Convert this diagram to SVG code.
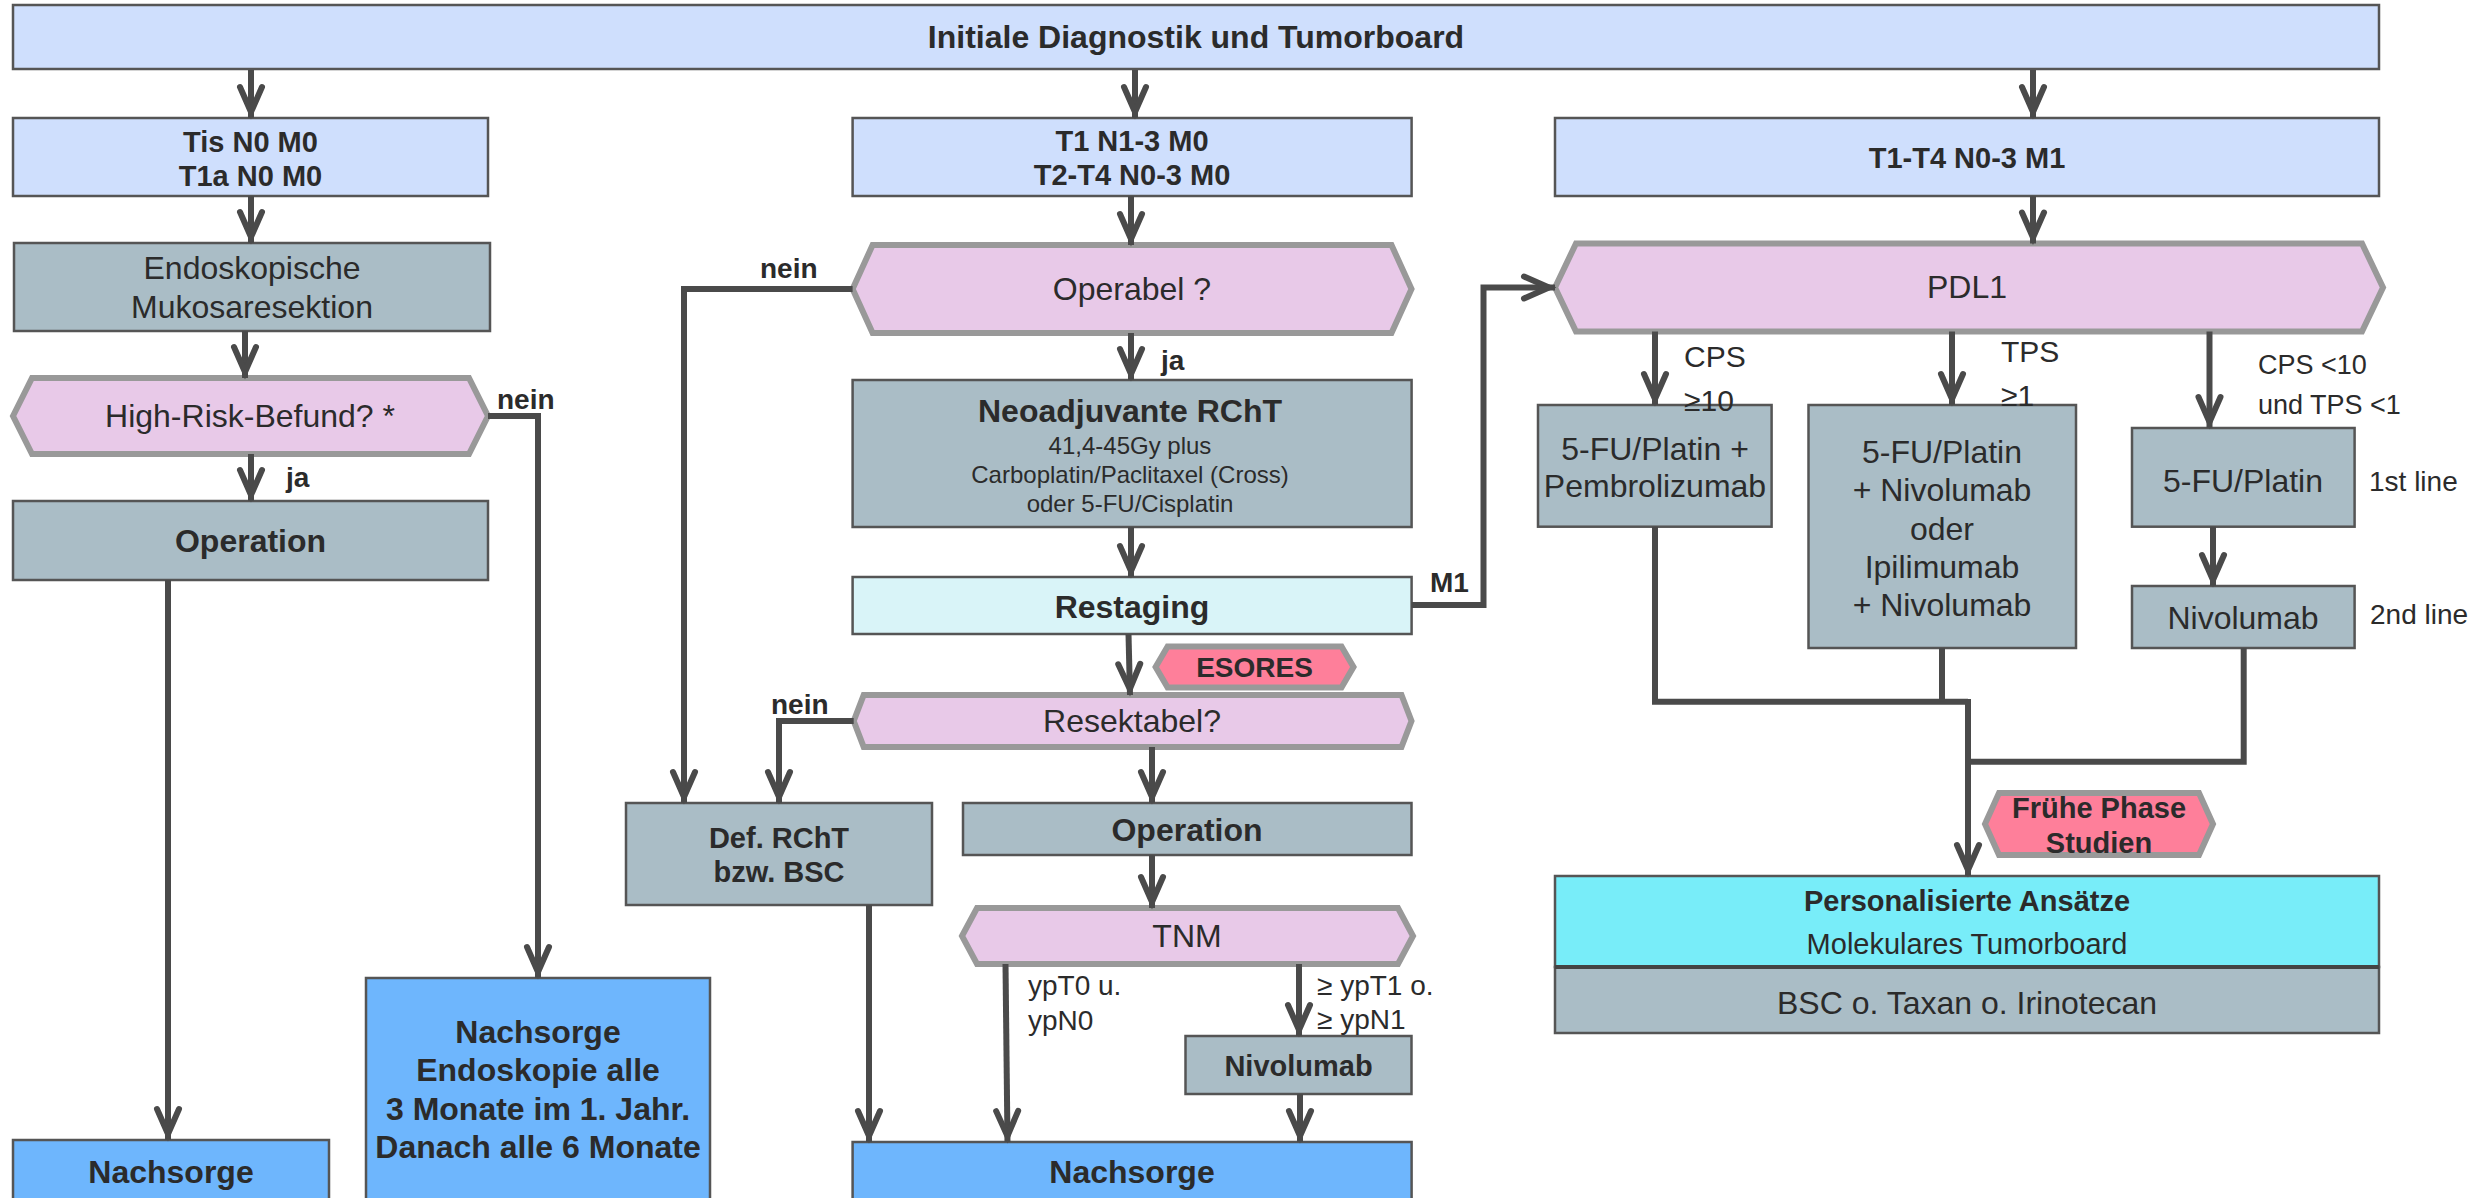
<svg xmlns="http://www.w3.org/2000/svg" width="2473" height="1198" viewBox="0 0 2473 1198">
<style>
.bx{stroke:#555;stroke-width:2.5}
.lb{fill:#cfdffd}
.gr{fill:#aabdc6}
.cy{fill:#d9f4f8}
.bl{fill:#6eb6fd}
.tq{fill:#78edf9}
.hx{fill:#e8c9e8;stroke:#999;stroke-width:6;stroke-linejoin:miter}
.rd{fill:#fe7f9a;stroke:#999;stroke-width:6;stroke-linejoin:miter}
text{font-family:"Liberation Sans",Arial,sans-serif;fill:#2b2b2b;text-anchor:middle}
.b{font-weight:bold}
.l{text-anchor:start}
.f32{font-size:32px}
.f30{font-size:30px}
.f29{font-size:29px}
.f28{font-size:28px}
.f27{font-size:27px}
.f24{font-size:24px}
.c{fill:none;stroke:#4a4a4a;stroke-width:6;stroke-linejoin:miter}
.a{marker-end:url(#ah)}
</style>
<defs>
<marker id="ah" markerUnits="userSpaceOnUse" viewBox="-40 -20 44 40" markerWidth="44" markerHeight="40" refX="0" refY="0" orient="auto">
<path d="M-31,-11 L-6,0 L-31,11" fill="none" stroke="#4a4a4a" stroke-width="6" stroke-linejoin="miter" stroke-linecap="round"/>
</marker>
</defs>
<rect width="2473" height="1198" fill="#ffffff"/>

<g id="n-top"><rect class="bx lb" x="13" y="5" width="2366" height="64"/><text class="b f32" x="1196" y="48">Initiale Diagnostik und Tumorboard</text></g>

<g id="n-tis"><rect class="bx lb" x="13" y="118" width="475" height="78"/><text class="b f29" x="250.5" y="152">Tis N0 M0</text><text class="b f29" x="250.5" y="186">T1a N0 M0</text></g>
<g id="n-t1"><rect class="bx lb" x="852.6" y="118" width="559" height="78"/><text class="b f29" x="1132" y="151">T1 N1-3 M0</text><text class="b f29" x="1132" y="185">T2-T4 N0-3 M0</text></g>
<g id="n-m1"><rect class="bx lb" x="1555" y="118" width="824" height="78"/><text class="b f29" x="1967" y="168">T1-T4 N0-3 M1</text></g>

<g id="n-emr"><rect class="bx gr" x="14" y="243" width="476" height="88"/><text class="f32" x="252" y="279">Endoskopische</text><text class="f32" x="252" y="318">Mukosaresektion</text></g>
<g id="n-risk"><polygon class="hx" points="13,416 32,378 469,378 488,416 469,454 32,454"/><text class="f32" x="250" y="427">High-Risk-Befund? *</text></g>
<g id="n-op1"><rect class="bx gr" x="13" y="501" width="475" height="79"/><text class="b f32" x="250.5" y="552">Operation</text></g>
<g id="n-ns1"><rect class="bx bl" x="13" y="1140" width="316" height="80"/><text class="b f32" x="171" y="1183">Nachsorge</text></g>
<g id="n-ns2"><rect class="bx bl" x="366" y="978" width="344" height="240"/>
<text class="b f32" x="538" y="1043">Nachsorge</text><text class="b f32" x="538" y="1081">Endoskopie alle</text><text class="b f32" x="538" y="1120">3 Monate im 1. Jahr.</text><text class="b f32" x="538" y="1158">Danach alle 6 Monate</text></g>

<g id="n-operabel"><polygon class="hx" points="852.6,289 872.6,245 1391.5,245 1411.5,289 1391.5,333 872.6,333"/><text class="f32" x="1132" y="300">Operabel ?</text></g>
<g id="n-neo"><rect class="bx gr" x="852.6" y="380" width="559" height="147"/>
<text class="b f32" x="1130" y="422">Neoadjuvante RChT</text>
<text class="f24" x="1130" y="453.5">41,4-45Gy plus</text>
<text class="f24" x="1130" y="482.5">Carboplatin/Paclitaxel (Cross)</text>
<text class="f24" x="1130" y="511.5">oder 5-FU/Cisplatin</text></g>
<g id="n-restaging"><rect class="bx cy" x="852.6" y="577" width="559" height="57"/><text class="b f32" x="1132" y="618">Restaging</text></g>
<g id="n-esores"><polygon class="rd" points="1155.6,667 1167.6,646.5 1341.5,646.5 1353.5,667 1341.5,687.5 1167.6,687.5"/><text class="b f28" x="1254.5" y="677">ESORES</text></g>
<g id="n-resekt"><polygon class="hx" points="853.7,721 863.7,695 1401.5,695 1411.5,721 1401.5,747 863.7,747"/><text class="f32" x="1132" y="732">Resektabel?</text></g>
<g id="n-def"><rect class="bx gr" x="626" y="803" width="306" height="102"/><text class="b f29" x="779" y="848">Def. RChT</text><text class="b f29" x="779" y="882">bzw. BSC</text></g>
<g id="n-op2"><rect class="bx gr" x="963" y="803" width="448.5" height="52"/><text class="b f32" x="1187" y="841">Operation</text></g>
<g id="n-tnm"><polygon class="hx" points="962,936 977,908 1398,908 1413,936 1398,964 977,964"/><text class="f32" x="1187" y="947">TNM</text></g>
<g id="n-nivo1"><rect class="bx gr" x="1185.5" y="1036" width="226" height="58"/><text class="b f29" x="1298.5" y="1076">Nivolumab</text></g>
<g id="n-ns3"><rect class="bx bl" x="852.6" y="1142" width="559" height="80"/><text class="b f32" x="1132" y="1183">Nachsorge</text></g>

<g id="n-pdl1"><polygon class="hx" points="1555,287.5 1576,243.5 2362,243.5 2383,287.5 2362,331.5 1576,331.5"/><text class="f32" x="1967" y="298">PDL1</text></g>
<g id="n-pembro"><rect class="bx gr" x="1538" y="405" width="233.6" height="121.7"/><text class="f32" x="1655" y="460">5-FU/Platin +</text><text class="f32" x="1655" y="497">Pembrolizumab</text></g>
<g id="n-nivoipi"><rect class="bx gr" x="1808.5" y="405" width="267.5" height="243"/>
<text class="f32" x="1942" y="463">5-FU/Platin</text><text class="f32" x="1942" y="501">+ Nivolumab</text><text class="f32" x="1942" y="540">oder</text><text class="f32" x="1942" y="578">Ipilimumab</text><text class="f32" x="1942" y="616">+ Nivolumab</text></g>
<g id="n-platin"><rect class="bx gr" x="2132" y="428" width="222.6" height="98.7"/><text class="f32" x="2243" y="492">5-FU/Platin</text></g>
<g id="n-nivo2"><rect class="bx gr" x="2132" y="586" width="222.6" height="62"/><text class="f32" x="2243" y="629">Nivolumab</text></g>
<g id="n-fruehe"><polygon class="rd" points="1985,824 1999,793 2199,793 2213,824 2199,855 1999,855"/><text class="b f29" x="2099" y="818">Frühe Phase</text><text class="b f29" x="2099" y="853">Studien</text></g>
<g id="n-pers"><rect class="bx tq" x="1555" y="876" width="824" height="91"/><text class="b f29" x="1967" y="911">Personalisierte Ansätze</text><text class="f29" x="1967" y="954">Molekulares Tumorboard</text>
<rect class="bx gr" x="1555" y="967" width="824" height="66"/><line x1="1555" y1="967" x2="2379" y2="967" stroke="#444" stroke-width="4"/><text class="f32" x="1967" y="1014">BSC o. Taxan o. Irinotecan</text></g>

<g id="connectors">
<path class="c a" d="M251 70 V118"/>
<path class="c a" d="M1135 70 V118"/>
<path class="c a" d="M2033 70 V118"/>
<path class="c a" d="M251 196 V243"/>
<path class="c a" d="M245 331 V378"/>
<path class="c a" d="M251 454 V501"/>
<path class="c a" d="M168 580 V1140"/>
<path class="c a" d="M488 416 H538 V978"/>
<path class="c a" d="M1131 196 V245"/>
<path class="c a" d="M852.6 289 H684 V803"/>
<path class="c a" d="M1131 333 V380"/>
<path class="c a" d="M1131 527 V577"/>
<path class="c a" d="M1128.5 634 L1130 695"/>
<path class="c a" d="M853.7 721 H779 V803"/>
<path class="c a" d="M1152 747 V803"/>
<path class="c a" d="M1152 855 V908"/>
<path class="c a" d="M869 905 V1142"/>
<path class="c a" d="M1005.5 964 L1007.5 1142"/>
<path class="c a" d="M1299 964 V1036"/>
<path class="c a" d="M1300 1094 V1142"/>
<path class="c a" d="M1411.5 605 H1483.5 V287.5 H1555"/>
<path class="c a" d="M2033 196 V243.5"/>
<path class="c a" d="M1655 331.5 V405"/>
<path class="c a" d="M1952 331.5 V405"/>
<path class="c a" d="M2209.5 331.5 V428"/>
<path class="c a" d="M2213 526.7 V586"/>
<path class="c" d="M1655 526.7 V701.7 H1968"/>
<path class="c" d="M1942 648 V701.7"/>
<path class="c" d="M2243.7 648 V761.7 H1968"/>
<path class="c a" d="M1968 699 V876"/>
<text class="b f28 l" x="497" y="409">nein</text>
<text class="b f28 l" x="286" y="487">ja</text>
<text class="b f28 l" x="760" y="278">nein</text>
<text class="b f28 l" x="1161" y="370">ja</text>
<text class="b f28 l" x="1430" y="592">M1</text>
<text class="b f28 l" x="771" y="714">nein</text>
<text class="f28 l" x="1028" y="995">ypT0 u.</text>
<text class="f28 l" x="1028" y="1030">ypN0</text>
<text class="f28 l" x="1317" y="995">≥ ypT1 o.</text>
<text class="f28 l" x="1317" y="1029">≥ ypN1</text>
<text class="f30 l" x="1684" y="367">CPS</text>
<text class="f30 l" x="1684" y="411">≥10</text>
<text class="f30 l" x="2001" y="362">TPS</text>
<text class="f30 l" x="2001" y="406">≥1</text>
<text class="f27 l" x="2258" y="374">CPS &lt;10</text>
<text class="f27 l" x="2258" y="414">und TPS &lt;1</text>
<text class="f28 l" x="2369" y="491">1st line</text>
<text class="f28 l" x="2370" y="624">2nd line</text>
</g>
</svg>
